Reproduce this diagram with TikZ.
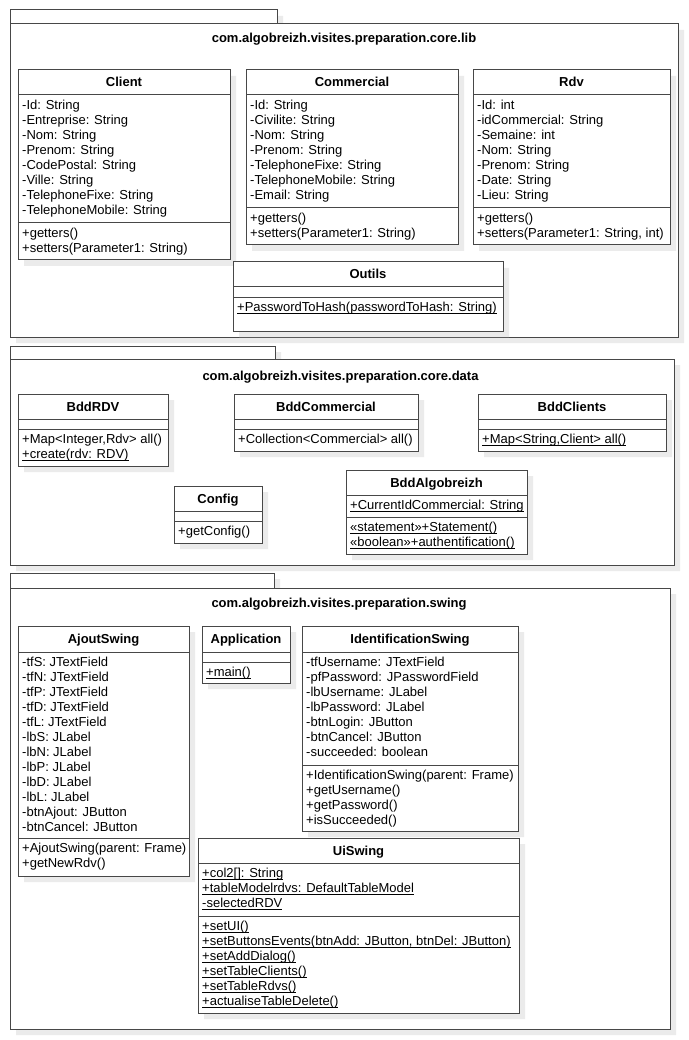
\documentclass[tikz,border=0pt]{standalone}
\usepackage{fontspec}
\setmainfont{Liberation Sans}
\tikzstyle{shade}=[fill=black!8, draw=none]
\tikzstyle{pkg}=[draw=black!72, line width=1pt, fill=white]
\tikzstyle{classbox}=[draw=black!72, line width=1pt, fill=white]
\tikzstyle{sep}=[draw=black!72, line width=1pt]
\tikzstyle{pkgname}=[anchor=base, inner sep=0pt, font=\fontsize{13}{15}\selectfont\bfseries]
\tikzstyle{classname}=[anchor=base, inner sep=0pt, font=\fontsize{13}{15}\selectfont\bfseries]
\tikzstyle{member}=[anchor=base west, inner sep=0pt, font=\fontsize{13}{15}\selectfont]
\newcommand\statm[1]{\setbox0\hbox{#1}\rlap{\rule[-2.2pt]{\wd0}{0.8pt}}\box0}

\begin{document}
\begin{tikzpicture}[x=1pt, y=-1pt]
\useasboundingbox (0,0) rectangle (688,1040);
% package core.lib
\fill[shade] (16,16) rectangle (283,30) (16,30) rectangle (684,343);
\draw[pkg] (10,10) rectangle (277,24);
\draw[pkg] (10,24) rectangle (678,337);
\node[pkgname] (lib) at (344,43) {com.algobreizh.visites.preparation.core.lib};
\fill[shade] (24,76) rectangle (236,266) (252,76) rectangle (464,251) (479,76) rectangle (676,251) (239,268) rectangle (509,337);
\draw[classbox] (18,70) rectangle (230,260);
\draw[sep] (18,95) -- (230,95) (18,223) -- (230,223);
\node[classname] (client) at (124,87) {Client};
\foreach \t [count=\i from 0] in {-Id: String, -Entreprise: String, -Nom: String, -Prenom: String, -CodePostal: String, -Ville: String, -TelephoneFixe: String, -TelephoneMobile: String}
  \node[member] (client-a\i) at (22,{109.5+15*\i}) {\t};
\foreach \t [count=\i from 0] in {+getters(), +setters(Parameter1: String)}
  \node[member] (client-m\i) at (22,{237.5+15*\i}) {\t};
\draw[classbox] (246,70) rectangle (458,245);
\draw[sep] (246,95) -- (458,95) (246,208) -- (458,208);
\node[classname] (commercial) at (352,87) {Commercial};
\foreach \t [count=\i from 0] in {-Id: String, -Civilite: String, -Nom: String, -Prenom: String, -TelephoneFixe: String, -TelephoneMobile: String, -Email: String}
  \node[member] (commercial-a\i) at (250,{109.5+15*\i}) {\t};
\foreach \t [count=\i from 0] in {+getters(), +setters(Parameter1: String)}
  \node[member] (commercial-m\i) at (250,{222.5+15*\i}) {\t};
\draw[classbox] (473,70) rectangle (670,245);
\draw[sep] (473,95) -- (670,95) (473,208) -- (670,208);
\node[classname] (rdv) at (571.5,87) {Rdv};
\foreach \t [count=\i from 0] in {-Id: int, -idCommercial: String, -Semaine: int, -Nom: String, -Prenom: String, -Date: String, -Lieu: String}
  \node[member] (rdv-a\i) at (477,{109.5+15*\i}) {\t};
\foreach \t [count=\i from 0] in {+getters(), {+setters(Parameter1: String, int)}}
  \node[member] (rdv-m\i) at (477,{222.5+15*\i}) {\t};
\draw[classbox] (233,262) rectangle (503,331);
\draw[sep] (233,287) -- (503,287) (233,297) -- (503,297);
\node[classname] (outils) at (368,279) {Outils};
\node[member] (outils-m0) at (237,311.5) {\statm{+PasswordToHash(passwordToHash: String)}};

% package core.data
\fill[shade] (16,352) rectangle (281,365) (16,365) rectangle (680,571);
\draw[pkg] (10,346) rectangle (275,359);
\draw[pkg] (10,359) rectangle (674,565);
\node[pkgname] (data) at (340.5,380) {com.algobreizh.visites.preparation.core.data};
\fill[shade] (24,400) rectangle (174,472) (240,400) rectangle (424,457) (484,400) rectangle (672,457) (180,492) rectangle (268,549) (352,476) rectangle (533,560);
\draw[classbox] (18,394) rectangle (168,466);
\draw[sep] (18,419) -- (168,419) (18,429) -- (168,429);
\node[classname] (bddrdv) at (93,411) {BddRDV};
\node[member] (bddrdv-m0) at (22,443.5) {+Map<Integer,Rdv> all()};
\node[member] (bddrdv-m1) at (22,458.5) {\statm{+create(rdv: RDV)}};
\draw[classbox] (234,394) rectangle (418,451);
\draw[sep] (234,419) -- (418,419) (234,429) -- (418,429);
\node[classname] (bddcommercial) at (326,411) {BddCommercial};
\node[member] (bddcommercial-m0) at (238,443.5) {+Collection<Commercial> all()};
\draw[classbox] (478,394) rectangle (666,451);
\draw[sep] (478,419) -- (666,419) (478,429) -- (666,429);
\node[classname] (bddclients) at (572,411) {BddClients};
\node[member] (bddclients-m0) at (482,443.5) {\statm{+Map<String,Client> all()}};
\draw[classbox] (174,486) rectangle (262,543);
\draw[sep] (174,511) -- (262,511) (174,521) -- (262,521);
\node[classname] (config) at (218,503) {Config};
\node[member] (config-m0) at (178,535.5) {+getConfig()};
\draw[classbox] (346,470) rectangle (527,554);
\draw[sep] (346,495) -- (527,495) (346,517) -- (527,517);
\node[classname] (bddalgo) at (436.5,487) {BddAlgobreizh};
\node[member] (bddalgo-a0) at (350,509.5) {\statm{+CurrentIdCommercial: String}};
\node[member] (bddalgo-m0) at (350,531.5) {\statm{«statement»+Statement()}};
\node[member] (bddalgo-m1) at (350,546.5) {\statm{«boolean»+authentification()}};

% package swing
\fill[shade] (16,579) rectangle (280,594) (16,594) rectangle (676,1035);
\draw[pkg] (10,573) rectangle (274,588);
\draw[pkg] (10,588) rectangle (670,1029);
\node[pkgname] (swing) at (339,607) {com.algobreizh.visites.preparation.swing};
\fill[shade] (24,632) rectangle (195,882) (208,632) rectangle (296,689) (308,632) rectangle (524,837) (204,844) rectangle (525,1019);
\draw[classbox] (18,626) rectangle (189,876);
\draw[sep] (18,652) -- (189,652) (18,838) -- (189,838);
\node[classname] (ajout) at (103.5,643) {AjoutSwing};
\foreach \t [count=\i from 0] in {-tfS: JTextField, -tfN: JTextField, -tfP: JTextField, -tfD: JTextField, -tfL: JTextField, -lbS: JLabel, -lbN: JLabel, -lbP: JLabel, -lbD: JLabel, -lbL: JLabel, -btnAjout: JButton, -btnCancel: JButton}
  \node[member] (ajout-a\i) at (22,{666.5+15*\i}) {\t};
\foreach \t [count=\i from 0] in {+AjoutSwing(parent: Frame), +getNewRdv()}
  \node[member] (ajout-m\i) at (22,{852.5+15*\i}) {\t};
\draw[classbox] (202,626) rectangle (290,683);
\draw[sep] (202,652) -- (290,652) (202,662) -- (290,662);
\node[classname] (app) at (246,643) {Application};
\node[member] (app-m0) at (206,676.5) {\statm{+main()}};
\draw[classbox] (302,626) rectangle (518,831);
\draw[sep] (302,652) -- (518,652) (302,765) -- (518,765);
\node[classname] (ident) at (410,643) {IdentificationSwing};
\foreach \t [count=\i from 0] in {-tfUsername: JTextField, -pfPassword: JPasswordField, -lbUsername: JLabel, -lbPassword: JLabel, -btnLogin: JButton, -btnCancel: JButton, -succeeded: boolean}
  \node[member] (ident-a\i) at (306,{666.5+15*\i}) {\t};
\foreach \t [count=\i from 0] in {+IdentificationSwing(parent: Frame), +getUsername(), +getPassword(), +isSucceeded()}
  \node[member] (ident-m\i) at (306,{779.5+15*\i}) {\t};
\draw[classbox] (198,838) rectangle (519,1013);
\draw[sep] (198,863) -- (519,863) (198,916) -- (519,916);
\node[classname] (ui) at (358.5,855) {UiSwing};
\foreach \t [count=\i from 0] in {+col2[]: String, +tableModelrdvs: DefaultTableModel, -selectedRDV}
  \node[member] (ui-a\i) at (202,{877.5+15*\i}) {\statm{\t}};
\foreach \t [count=\i from 0] in {+setUI(), {+setButtonsEvents(btnAdd: JButton, btnDel: JButton)}, +setAddDialog(), +setTableClients(), +setTableRdvs(), +actualiseTableDelete()}
  \node[member] (ui-m\i) at (202,{930.5+15*\i}) {\statm{\t}};
\end{tikzpicture}
\end{document}
